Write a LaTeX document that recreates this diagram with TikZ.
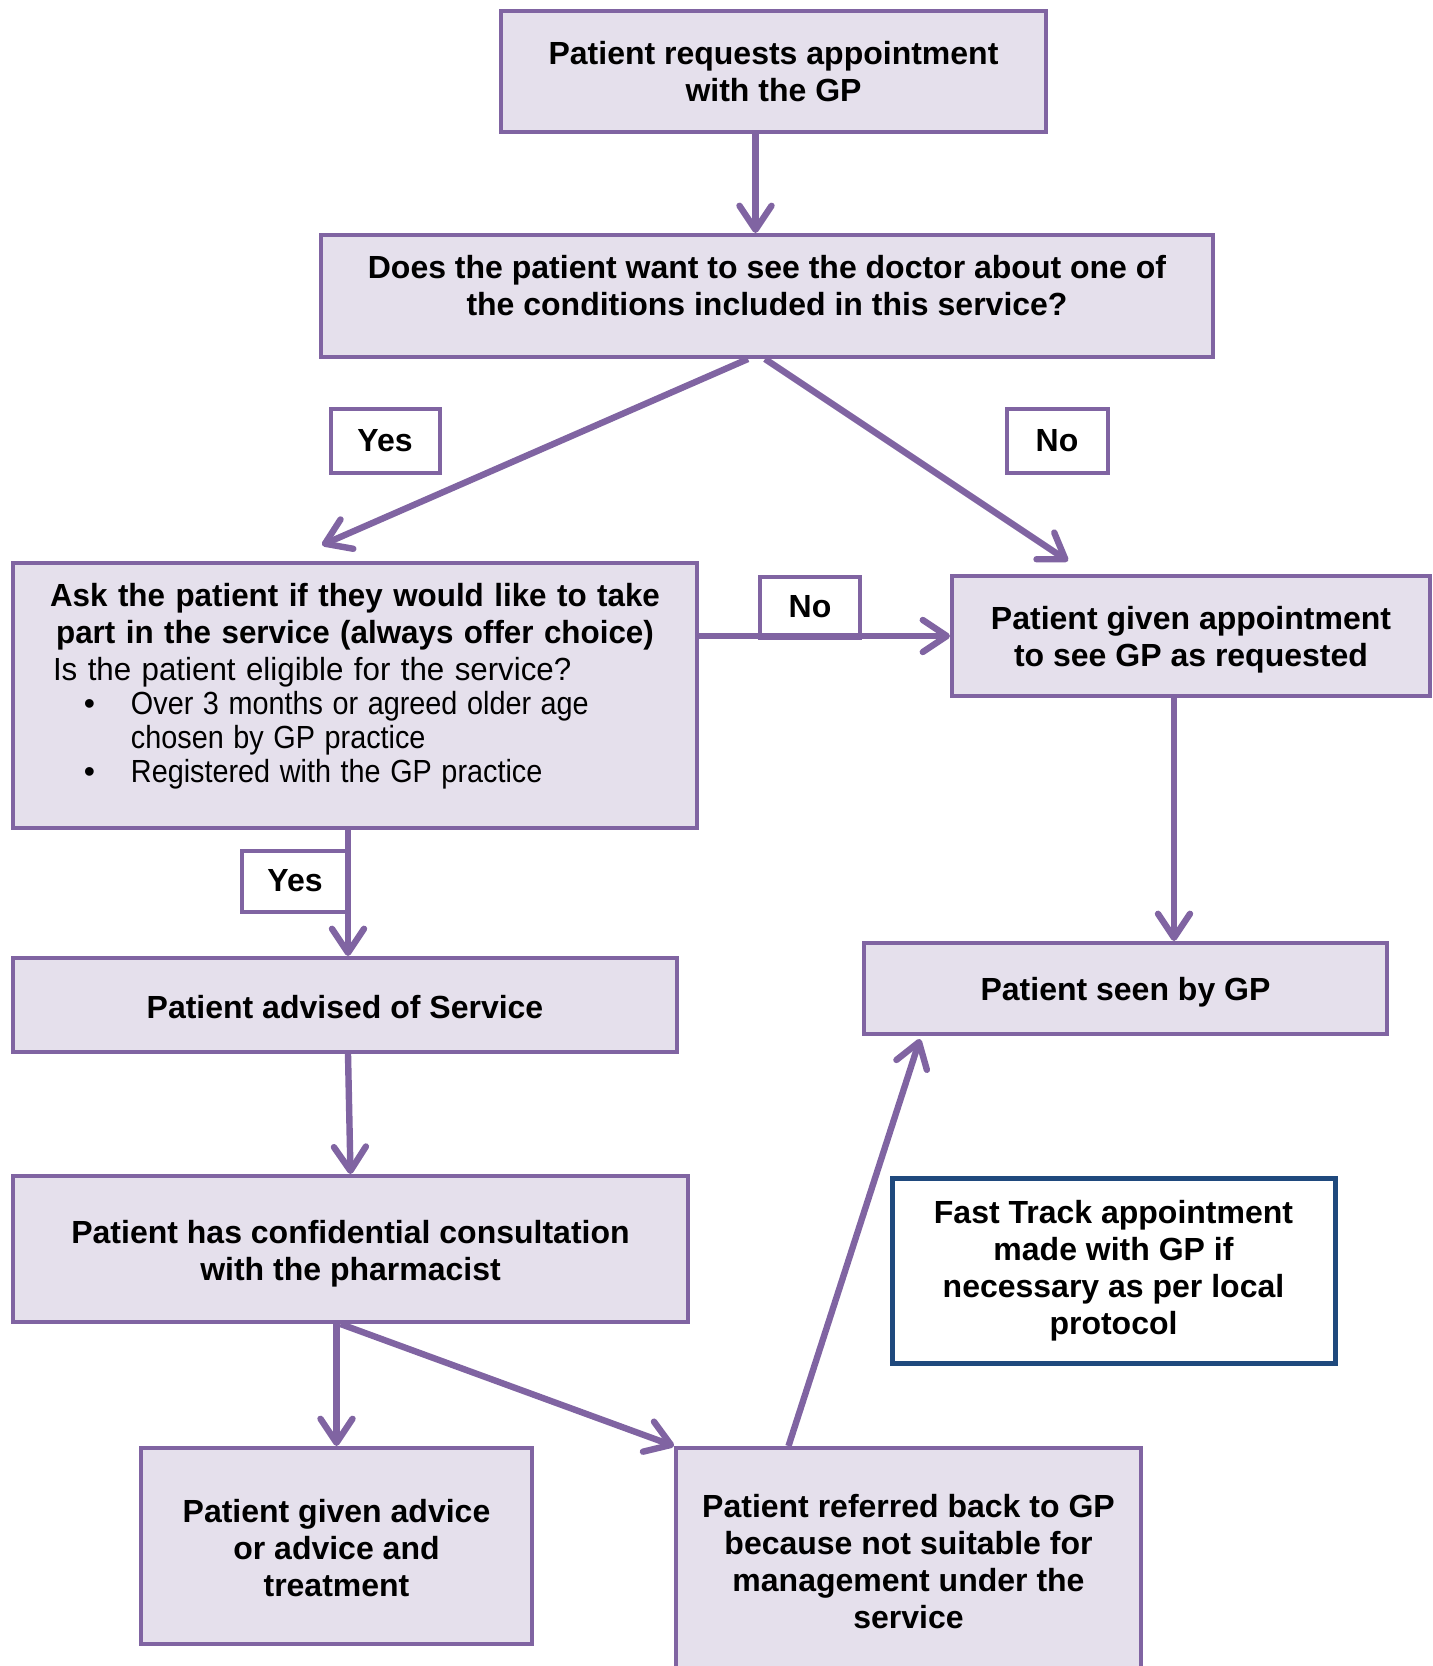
\documentclass[tikz,border=0pt]{standalone}
\usepackage{fontspec}
\usepackage{graphicx}
\setmainfont{Liberation Sans}
\usetikzlibrary{arrows.meta}
\definecolor{flowpurple}{RGB}{128,100,162}
\definecolor{flowfill}{RGB}{229,224,236}
\definecolor{fastblue}{RGB}{31,73,125}
\newcommand{\lowertext}{\rule{0pt}{15.8pt}}
\tikzset{
    stepbox/.style={draw=flowpurple, fill=flowfill, line width=2pt, align=center,
        font=\fontsize{16pt}{18.5pt}\selectfont\bfseries},
    answer/.style={draw=flowpurple, fill=white, line width=2pt,
        font=\fontsize{16pt}{18.5pt}\selectfont\bfseries},
    flow/.style={draw=flowpurple, line width=3.2pt,
        -{Straight Barb[length=12pt, width=16pt, round]}}
}
\begin{document}
\begin{tikzpicture}[x=0.5pt, y=-0.5pt]
    \useasboundingbox (0,0) rectangle (1432,1666);

    \node[stepbox, minimum width=272.5pt, minimum height=60.5pt] (request) at (773.5,71.5) {Patient requests appointment\\with the GP};
    \node[stepbox, minimum width=446pt, minimum height=61pt] (question) at (767,296) {Does the patient want to see the doctor about one of\\the conditions included in this service?\rule[-10.5pt]{0pt}{10.5pt}};
    \node[stepbox, minimum width=342pt, minimum height=132.5pt, text width=310pt, align=left] (ask) at (355,695.5) {%
        \makebox[310pt]{\scalebox{0.98}[1]{Ask the patient if they would like to take}}\\
        \makebox[310pt]{\scalebox{0.98}[1]{part in the service (always offer choice)}}\\
        \mdseries\hspace*{4pt}\scalebox{0.978}[1]{Is the patient eligible for the service?}\\[-1.5pt]
        \hspace*{19.5pt}\makebox[23.5pt][l]{\textbullet}\scalebox{0.9}[1]{Over 3 months or agreed older age}\\[-1.5pt]
        \hspace*{43pt}\scalebox{0.9}[1]{chosen by GP practice}\\[-1.5pt]
        \hspace*{19.5pt}\makebox[23.5pt][l]{\textbullet}\scalebox{0.9}[1]{Registered with the GP practice}\rule[-12.3pt]{0pt}{12.3pt}};
    \node[stepbox, minimum width=239pt, minimum height=60pt] (given) at (1191,636) {\lowertext Patient given appointment\\to see GP as requested};
    \node[stepbox, minimum width=332pt, minimum height=47pt] (advised) at (345,1005) {\rule{0pt}{13.8pt}Patient advised of Service};
    \node[stepbox, minimum width=261.5pt, minimum height=45.5pt] (seen) at (1125.5,988.5) {\lowertext Patient seen by GP};
    \node[stepbox, minimum width=337.5pt, minimum height=73pt] (consult) at (350.5,1249) {\rule{0pt}{16.5pt}Patient has confidential consultation\\with the pharmacist};
    \node[stepbox, draw=fastblue, fill=white, line width=2.5pt, minimum width=221.5pt, minimum height=92.5pt] (fasttrack) at (1113.5,1270.5) {Fast Track appointment\\made with GP if\\necessary as per local\\protocol};
    \node[stepbox, minimum width=195.5pt, minimum height=98pt] (advice) at (336.5,1546) {\rule{0pt}{13.8pt}Patient given advice\\or advice and\\treatment};
    \node[stepbox, minimum width=232.5pt, minimum height=112pt] (referred) at (908.5,1560) {\rule{0pt}{13pt}Patient referred back to GP\\because not suitable for\\management under the\\service};

    \node[answer, minimum width=54.5pt, minimum height=32pt] (yesA) at (385,441) {Yes};
    \node[answer, minimum width=50.5pt, minimum height=32pt] (noA) at (1057,441) {No};
    \node[answer, minimum width=50pt, minimum height=30.5pt] (noB) at (810,607) {No};
    \node[answer, minimum width=53pt, minimum height=30.5pt] (yesB) at (295,881) {Yes};

    \begin{scope}[flow]
        \draw ([xshift=-9pt]request.south) -- ([xshift=-9pt]request.south |- question.north);
        \draw ([xshift=-9.5pt]question.south) -- ([xshift=-16.5pt, yshift=8pt]ask.north);
        \draw ([xshift=-1pt]question.south) -- ([xshift=-61.5pt, yshift=6.5pt]given.north);
        \draw (ask.east |- given.west) -- (given.west);
        \draw ([xshift=-8.5pt]given.south) -- ([xshift=-8.5pt]given.south |- seen.north);
        \draw ([xshift=-3.5pt]ask.south) -- ([xshift=-3.5pt]ask.south |- advised.north);
        \draw ([xshift=1.5pt]advised.south) -- (consult.north);
        \draw ([xshift=-7pt]consult.south) -- (advice.north);
        \draw ([xshift=-5pt]consult.south) -- (referred.north west);
        \draw ([xshift=-60pt]referred.north) -- ([xshift=29pt, yshift=-1.5pt]seen.south west);
    \end{scope}
\end{tikzpicture}
\end{document}
